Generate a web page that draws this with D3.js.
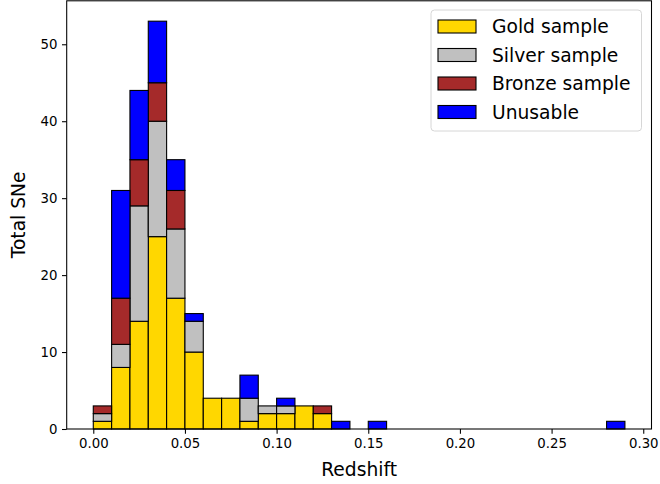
<!DOCTYPE html>
<html>
<head>
<meta charset="utf-8">
<script src="https://cdn.jsdelivr.net/npm/d3@7"></script>
<style>
  html, body { margin: 0; padding: 0; background: #fff; }
  svg { display: block; font-family: "DejaVu Sans", sans-serif; }
</style>
</head>
<body>
<svg id="chart" width="660" height="484"></svg>
<script>
// Redshift bins of width 0.01 starting at 0.00
const binWidth = 0.01;
const binStarts = d3.range(29).map(i => +(i * binWidth).toFixed(2));

// Counts per bin for each sample class
const gold     = [1, 8, 14, 25, 17, 10, 4, 4, 1, 2, 2, 3, 2, 0, 0, 0, 0, 0, 0, 0, 0, 0, 0, 0, 0, 0, 0, 0, 0];
const silver   = [1, 3, 15, 15, 9, 4, 0, 0, 3, 1, 1, 0, 0, 0, 0, 0, 0, 0, 0, 0, 0, 0, 0, 0, 0, 0, 0, 0, 0];
const bronze   = [1, 6, 6, 5, 5, 0, 0, 0, 0, 0, 0, 0, 1, 0, 0, 0, 0, 0, 0, 0, 0, 0, 0, 0, 0, 0, 0, 0, 0];
const unusable = [0, 14, 9, 8, 4, 1, 0, 0, 3, 0, 1, 0, 0, 1, 0, 1, 0, 0, 0, 0, 0, 0, 0, 0, 0, 0, 0, 0, 1];

const seriesNames = ["Gold sample", "Silver sample", "Bronze sample", "Unusable"];
const seriesColors = ["#FFD700", "#C0C0C0", "#A52A2A", "#0000FF"];

const xTicks = [0.00, 0.05, 0.10, 0.15, 0.20, 0.25, 0.30];
const yTicks = [0, 10, 20, 30, 40, 50];

const plot = { left: 66.7, right: 651.5, top: 0.8, bottom: 429 };

const svg = d3.select("#chart");

const rows = binStarts.map((x0, i) => ({
  x0,
  g: gold[i], s: silver[i], b: bronze[i], u: unusable[i]
}));
const keys = ["g", "s", "b", "u"];
const stacked = d3.stack().keys(keys)(rows);

const maxTotal = d3.max(rows, r => r.g + r.s + r.b + r.u);
const xMin = 0, xMax = binStarts[binStarts.length - 1] + binWidth;
const xPad = (xMax - xMin) * 0.05;

const x = d3.scaleLinear().domain([xMin - xPad, xMax + xPad]).range([plot.left, plot.right]);
const y = d3.scaleLinear().domain([0, maxTotal * 1.05]).range([plot.bottom, plot.top]);

// Stacked bars
const layers = svg.append("g")
  .selectAll("g")
  .data(stacked)
  .join("g")
  .attr("fill", (d, i) => seriesColors[i]);

layers.selectAll("rect")
  .data(d => d.filter(p => p[1] - p[0] > 0))
  .join("rect")
  .attr("x", d => x(d.data.x0))
  .attr("width", d => x(d.data.x0 + binWidth) - x(d.data.x0))
  .attr("y", d => y(d[1]))
  .attr("height", d => y(d[0]) - y(d[1]))
  .attr("stroke", "#000")
  .attr("stroke-width", 1.1);

// Axes
const xAxis = d3.axisBottom(x).tickValues(xTicks).tickFormat(d3.format(".2f")).tickSize(4.7).tickPadding(4.5);
const yAxis = d3.axisLeft(y).tickValues(yTicks).tickFormat(d3.format("d")).tickSize(4.7).tickPadding(4.5);

const gx = svg.append("g").attr("transform", `translate(0,${plot.bottom})`).call(xAxis);
const gy = svg.append("g").attr("transform", `translate(${plot.left},0)`).call(yAxis);

[gx, gy].forEach(g => {
  g.select(".domain").remove();
  g.selectAll(".tick line").attr("stroke", "#000").attr("stroke-width", 1.07);
  g.selectAll(".tick text").attr("fill", "#000").style("font-size", "13.3px").style("font-family", "DejaVu Sans");
});

// Frame
svg.append("rect")
  .attr("x", plot.left).attr("y", plot.top)
  .attr("width", plot.right - plot.left).attr("height", plot.bottom - plot.top)
  .attr("fill", "none").attr("stroke", "#000").attr("stroke-width", 1.07);

// Axis titles
svg.append("text")
  .attr("x", (plot.left + plot.right) / 2).attr("y", 476)
  .attr("text-anchor", "middle")
  .style("font-size", "18.7px").attr("fill", "#000")
  .text("Redshift");

svg.append("text")
  .attr("transform", `translate(25,${(plot.top + plot.bottom) / 2}) rotate(-90)`)
  .attr("text-anchor", "middle")
  .style("font-size", "18.7px").attr("fill", "#000")
  .text("Total SNe");

// Legend
const legend = svg.append("g");
legend.append("rect")
  .attr("x", 431).attr("y", 10).attr("width", 210.5).attr("height", 121)
  .attr("rx", 3.5).attr("ry", 3.5)
  .attr("fill", "#fff").attr("fill-opacity", 0.8)
  .attr("stroke", "#d6d6d6").attr("stroke-width", 1);

const items = legend.selectAll("g.item")
  .data(seriesNames)
  .join("g")
  .attr("class", "item")
  .attr("transform", (d, i) => `translate(0,${26.5 + i * 28.5})`);

items.append("rect")
  .attr("x", 438).attr("y", -6.5).attr("width", 38).attr("height", 13)
  .attr("fill", (d, i) => seriesColors[i])
  .attr("stroke", "#000").attr("stroke-width", 1.1);

items.append("text")
  .attr("x", 492).attr("y", 0).attr("dy", "0.35em")
  .style("font-size", "18.7px").attr("fill", "#000")
  .text(d => d);
</script>
</body>
</html>
